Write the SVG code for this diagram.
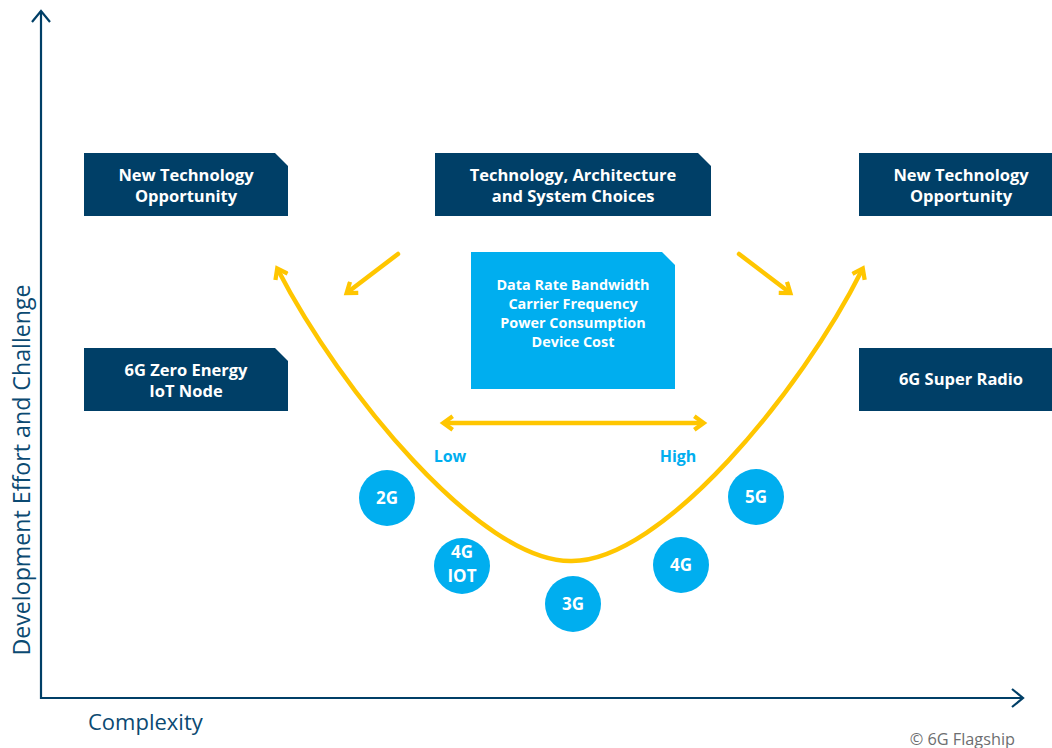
<svg xmlns="http://www.w3.org/2000/svg" width="1052" height="748" viewBox="0 0 1052 748">
<style>
.navy{fill:#003f67}
.lb{fill:#00aeef}
.bt{font-family:"Open Sans","Liberation Sans",sans-serif;font-weight:bold;fill:#fff;text-anchor:middle}
.bx{font-size:16.5px}
.sm{font-size:14.4px}
.ct{font-size:17px}
.yl{fill:none;stroke:#ffc600;stroke-width:4.5;stroke-linecap:round}
.ax{fill:none;stroke:#003f67;stroke-width:2.2}
.lbl{font-family:"Open Sans","Liberation Sans",sans-serif;font-size:22px;fill:#0b4a72}
.ylab{font-size:23.2px}
.lh{font-family:"Open Sans","Liberation Sans",sans-serif;font-weight:bold;font-size:16px;fill:#00aeef;text-anchor:middle}
</style>
<defs>
<marker id="ya" viewBox="0 0 10 10" refX="6" refY="5" markerWidth="3.8" markerHeight="3.8" orient="auto-start-reverse" markerUnits="strokeWidth">
<path d="M1.5,1 L7,5 L1.5,9" fill="none" stroke="#ffc600" stroke-width="2.5" stroke-linejoin="miter"/>
</marker>
</defs>
<rect width="1052" height="748" fill="#fff"/>
<g id="axes">
<path class="ax" d="M41,11 V698 H1022"/>
<path class="ax" d="M32,22 L41,11 L50,22"/>
<path class="ax" d="M1012,689 L1023,698 L1012,707"/>
<text class="lbl ylab" transform="translate(30,470) rotate(-90)" text-anchor="middle">Development Effort and Challenge</text>
<text class="lbl" x="88" y="730">Complexity</text>
<text x="1015" y="745" text-anchor="end" font-family="'Open Sans','Liberation Sans',sans-serif" font-size="16.3" fill="#6d6e70">© 6G Flagship</text>
</g>
<g id="connectors">
<path class="yl" d="M278,270 C340,390 480,562 571,561 C662,562 802,390 862,270" marker-start="url(#ya)" marker-end="url(#ya)"/>
<path class="yl" d="M398,254 L348,292" marker-end="url(#ya)"/>
<path class="yl" d="M739,254 L789,292" marker-end="url(#ya)"/>
<path class="yl" d="M445,423 L702,423" marker-start="url(#ya)" marker-end="url(#ya)"/>
<text class="lh" x="450" y="462">Low</text>
<text class="lh" x="678" y="462">High</text>
</g>
<g id="n1">
<path class="navy" d="M84,153 H275 L288,166 V216 H84 Z"/>
<text class="bt bx" x="186" y="181">New Technology</text>
<text class="bt bx" x="186" y="202">Opportunity</text>
</g>
<g id="n2">
<path class="navy" d="M435,153 H698 L711,166 V216 H435 Z"/>
<text class="bt bx" x="573" y="181">Technology, Architecture</text>
<text class="bt bx" x="573" y="202">and System Choices</text>
</g>
<g id="n3">
<path class="navy" d="M859,153 H1052 V216 H859 Z"/>
<text class="bt bx" x="961" y="181">New Technology</text>
<text class="bt bx" x="961" y="202">Opportunity</text>
</g>
<g id="n4">
<path class="navy" d="M84,348 H275 L288,361 V411 H84 Z"/>
<text class="bt bx" x="186" y="376">6G Zero Energy</text>
<text class="bt bx" x="186" y="397">IoT Node</text>
</g>
<g id="n5">
<path class="navy" d="M859,348 H1052 V411 H859 Z"/>
<text class="bt bx" x="961" y="385">6G Super Radio</text>
</g>
<g id="n6">
<path class="lb" d="M471,252 H662 L675,265 V389 H471 Z"/>
<text class="bt sm" x="573" y="290">Data Rate Bandwidth</text>
<text class="bt sm" x="573" y="309">Carrier Frequency</text>
<text class="bt sm" x="573" y="328">Power Consumption</text>
<text class="bt sm" x="573" y="347">Device Cost</text>
</g>
<g id="c2g"><circle class="lb" cx="387" cy="498" r="28"/><text class="bt ct" x="387" y="504">2G</text></g>
<g id="c4giot"><circle class="lb" cx="462" cy="566" r="28"/><text class="bt ct" x="462" y="558">4G</text><text class="bt ct" x="462" y="582">IOT</text></g>
<g id="c3g"><circle class="lb" cx="573" cy="604" r="28"/><text class="bt ct" x="573" y="610">3G</text></g>
<g id="c4g"><circle class="lb" cx="681" cy="565" r="28"/><text class="bt ct" x="681" y="571">4G</text></g>
<g id="c5g"><circle class="lb" cx="756" cy="497" r="28"/><text class="bt ct" x="756" y="503">5G</text></g>
</svg>
